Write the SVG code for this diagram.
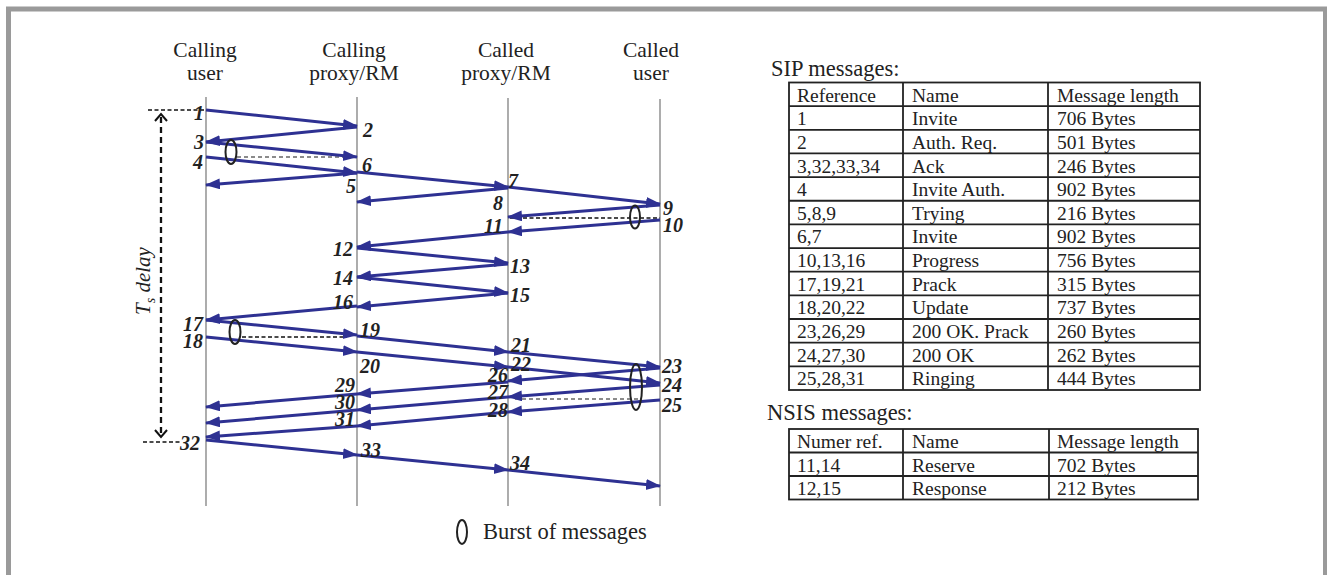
<svg xmlns="http://www.w3.org/2000/svg" width="1327" height="575" viewBox="0 0 1327 575">
<style>
.hdr{font-family:"Liberation Serif","Times New Roman",serif;font-size:21.5px;fill:#222;text-anchor:middle}
.lbl{font-family:"Liberation Serif","Times New Roman",serif;font-size:20px;font-weight:bold;font-style:italic;fill:#222}
.e{text-anchor:end}
.life{stroke:#808080;stroke-width:1.3;fill:none}
.msg{stroke:#2e3192;stroke-width:3;fill:none;marker-end:url(#ah)}
.burst{fill:none;stroke:#222;stroke-width:2}
.dg{stroke:#666;stroke-width:1.3;stroke-dasharray:4 3;fill:none}
.dk{stroke:#111;stroke-width:1.5;stroke-dasharray:4 2.5;fill:none}
.tt{font-family:"Liberation Serif","Times New Roman",serif;font-size:22.5px;fill:#222}
.tb{font-family:"Liberation Serif","Times New Roman",serif;font-size:19.5px;fill:#222}
.grid{stroke:#222;stroke-width:1.8;fill:none}
</style>
<defs>
<marker id="ah" markerUnits="userSpaceOnUse" markerWidth="18" markerHeight="12" refX="14" refY="5.5" orient="auto">
<path d="M0,0 L15,5.5 L0,11 z" fill="#2e3192"/>
</marker>
</defs>
<rect x="8.5" y="9" width="1317" height="620" fill="#fff" stroke="#9a9a9a" stroke-width="5"/>

<g id="calling-user">
<text class="hdr" x="205" y="57">Calling</text>
<text class="hdr" x="205" y="80">user</text>
<line class="life" x1="206" y1="97" x2="206" y2="506"/>
</g>
<g id="calling-proxy">
<text class="hdr" x="354" y="57">Calling</text>
<text class="hdr" x="354" y="80">proxy/RM</text>
<line class="life" x1="357" y1="97" x2="357" y2="506"/>
</g>
<g id="called-proxy">
<text class="hdr" x="506" y="57">Called</text>
<text class="hdr" x="506" y="80">proxy/RM</text>
<line class="life" x1="508" y1="98" x2="508" y2="506"/>
</g>
<g id="called-user">
<text class="hdr" x="651" y="57">Called</text>
<text class="hdr" x="651" y="80">user</text>
<line class="life" x1="660" y1="99" x2="660" y2="506"/>
</g>

<g id="ts-delay">
<line class="dk" x1="148" y1="110" x2="205" y2="110"/>
<line class="dk" x1="143" y1="442" x2="180" y2="442"/>
<line x1="161" y1="117" x2="161" y2="435" stroke="#111" stroke-width="2.3" stroke-dasharray="6 4"/>
<path d="M155,121 L161,114 L167,121" fill="none" stroke="#111" stroke-width="2"/>
<path d="M155,430 L161,437 L167,430" fill="none" stroke="#111" stroke-width="2"/>
<text class="tb" transform="translate(150,281) rotate(-90)" text-anchor="middle" style="font-size:21px;font-style:italic">T<tspan font-size="14" dy="5">s</tspan><tspan dy="-5"> delay</tspan></text>
</g>

<g id="connectors">
<line class="dg" x1="237" y1="157" x2="343" y2="157"/>
<line class="dk" x1="510" y1="218" x2="660" y2="218"/>
<line class="dk" x1="242" y1="337" x2="347" y2="337"/>
<line class="dg" x1="515" y1="399" x2="638" y2="399"/>

<line class="msg" x1="206" y1="110" x2="357" y2="126"/>
<line class="msg" x1="357" y1="127" x2="206" y2="142"/>
<line class="msg" x1="206" y1="142" x2="357" y2="157"/>
<line class="msg" x1="206" y1="157" x2="357" y2="173"/>
<line class="msg" x1="357" y1="173" x2="206" y2="185"/>
<line class="msg" x1="357" y1="172" x2="508" y2="187"/>
<line class="msg" x1="508" y1="188" x2="357" y2="202"/>
<line class="msg" x1="508" y1="187" x2="660" y2="204"/>
<line class="msg" x1="660" y1="205" x2="508" y2="217"/>
<line class="msg" x1="660" y1="220" x2="508" y2="232"/>
<line class="msg" x1="508" y1="232" x2="357" y2="247"/>
<line class="msg" x1="357" y1="248" x2="508" y2="263"/>
<line class="msg" x1="508" y1="264" x2="357" y2="277"/>
<line class="msg" x1="357" y1="277" x2="508" y2="293"/>
<line class="msg" x1="508" y1="293" x2="357" y2="307"/>
<line class="msg" x1="357" y1="306" x2="206" y2="320"/>
<line class="msg" x1="206" y1="320" x2="357" y2="335"/>
<line class="msg" x1="206" y1="337" x2="357" y2="352"/>
<line class="msg" x1="357" y1="336" x2="508" y2="352"/>
<line class="msg" x1="357" y1="352" x2="508" y2="367"/>
<line class="msg" x1="508" y1="352" x2="660" y2="367"/>
<line class="msg" x1="508" y1="367" x2="660" y2="383"/>
<line class="msg" x1="660" y1="368" x2="508" y2="381"/>
<line class="msg" x1="660" y1="385" x2="508" y2="397"/>
<line class="msg" x1="660" y1="400" x2="508" y2="412"/>
<line class="msg" x1="508" y1="382" x2="357" y2="394"/>
<line class="msg" x1="508" y1="397" x2="357" y2="410"/>
<line class="msg" x1="508" y1="412" x2="357" y2="426"/>
<line class="msg" x1="357" y1="394" x2="206" y2="407"/>
<line class="msg" x1="357" y1="410" x2="206" y2="423"/>
<line class="msg" x1="357" y1="426" x2="206" y2="437"/>
<line class="msg" x1="206" y1="440" x2="357" y2="455"/>
<line class="msg" x1="357" y1="455" x2="508" y2="470"/>
<line class="msg" x1="508" y1="470" x2="660" y2="486"/>

<ellipse class="burst" cx="231" cy="152" rx="5.5" ry="12"/>
<ellipse class="burst" cx="635" cy="217" rx="5" ry="11.5"/>
<ellipse class="burst" cx="235" cy="332" rx="5.5" ry="12"/>
<ellipse class="burst" cx="636" cy="387" rx="6" ry="23"/>
</g>

<g id="labels">
<text class="lbl e" x="204" y="120">1</text>
<text class="lbl e" x="204" y="149">3</text>
<text class="lbl e" x="203" y="169">4</text>
<text class="lbl e" x="203" y="331">17</text>
<text class="lbl e" x="203" y="348">18</text>
<text class="lbl e" x="200" y="450">32</text>
<text class="lbl e" x="356" y="193">5</text>
<text class="lbl e" x="353" y="256">12</text>
<text class="lbl e" x="353" y="285">14</text>
<text class="lbl e" x="353" y="309">16</text>
<text class="lbl e" x="355" y="392">29</text>
<text class="lbl e" x="355" y="409">30</text>
<text class="lbl e" x="355" y="426">31</text>
<text class="lbl" x="363" y="137">2</text>
<text class="lbl" x="362" y="172">6</text>
<text class="lbl" x="360" y="337">19</text>
<text class="lbl" x="360" y="373">20</text>
<text class="lbl" x="361" y="457">33</text>
<text class="lbl e" x="503" y="210">8</text>
<text class="lbl e" x="503" y="233">11</text>
<text class="lbl e" x="508" y="382">26</text>
<text class="lbl e" x="508" y="399">27</text>
<text class="lbl e" x="508" y="417">28</text>
<text class="lbl" x="508" y="188">7</text>
<text class="lbl" x="510" y="273">13</text>
<text class="lbl" x="510" y="302">15</text>
<text class="lbl" x="511" y="352">21</text>
<text class="lbl" x="511" y="371">22</text>
<text class="lbl" x="510" y="470">34</text>
<text class="lbl" x="663" y="215">9</text>
<text class="lbl" x="663" y="232">10</text>
<text class="lbl" x="662" y="373">23</text>
<text class="lbl" x="662" y="392">24</text>
<text class="lbl" x="662" y="412">25</text>
</g>

<g id="legend">
<ellipse class="burst" cx="462" cy="532" rx="5" ry="12"/>
<text class="tt" x="483" y="539">Burst of messages</text>
</g>

<g id="sip-table">
<text class="tt" x="771" y="76">SIP messages:</text>
<rect class="grid" x="789" y="82.5" width="411" height="307.5"/>
<line class="grid" x1="903" y1="82.5" x2="903" y2="390"/>
<line class="grid" x1="1048" y1="82.5" x2="1048" y2="390"/>
<path class="grid" d="M789,106.15H1200M789,129.8H1200M789,153.45H1200M789,177.1H1200M789,200.75H1200M789,224.4H1200M789,248.05H1200M789,271.7H1200M789,295.35H1200M789,319H1200M789,342.65H1200M789,366.3H1200"/>
<g class="tb">
<text x="797" y="101.5">Reference</text><text x="912" y="101.5">Name</text><text x="1057" y="101.5">Message length</text>
<text x="797" y="125.2">1</text><text x="912" y="125.2">Invite</text><text x="1057" y="125.2">706 Bytes</text>
<text x="797" y="148.8">2</text><text x="912" y="148.8">Auth. Req.</text><text x="1057" y="148.8">501 Bytes</text>
<text x="797" y="172.5">3,32,33,34</text><text x="912" y="172.5">Ack</text><text x="1057" y="172.5">246 Bytes</text>
<text x="797" y="196.1">4</text><text x="912" y="196.1">Invite Auth.</text><text x="1057" y="196.1">902 Bytes</text>
<text x="797" y="219.8">5,8,9</text><text x="912" y="219.8">Trying</text><text x="1057" y="219.8">216 Bytes</text>
<text x="797" y="243.4">6,7</text><text x="912" y="243.4">Invite</text><text x="1057" y="243.4">902 Bytes</text>
<text x="797" y="267.1">10,13,16</text><text x="912" y="267.1">Progress</text><text x="1057" y="267.1">756 Bytes</text>
<text x="797" y="290.7">17,19,21</text><text x="912" y="290.7">Prack</text><text x="1057" y="290.7">315 Bytes</text>
<text x="797" y="314.4">18,20,22</text><text x="912" y="314.4">Update</text><text x="1057" y="314.4">737 Bytes</text>
<text x="797" y="338">23,26,29</text><text x="912" y="338">200 OK. Prack</text><text x="1057" y="338">260 Bytes</text>
<text x="797" y="361.7">24,27,30</text><text x="912" y="361.7">200 OK</text><text x="1057" y="361.7">262 Bytes</text>
<text x="797" y="385.3">25,28,31</text><text x="912" y="385.3">Ringing</text><text x="1057" y="385.3">444 Bytes</text>
</g>
</g>

<g id="nsis-table">
<text class="tt" x="767" y="420">NSIS messages:</text>
<rect class="grid" x="789" y="429" width="409" height="70.5"/>
<line class="grid" x1="903" y1="429" x2="903" y2="499.5"/>
<line class="grid" x1="1049" y1="429" x2="1049" y2="499.5"/>
<path class="grid" d="M789,452.5H1198M789,476H1198"/>
<g class="tb">
<text x="797" y="448">Numer ref.</text><text x="912" y="448">Name</text><text x="1057" y="448">Message length</text>
<text x="797" y="471.5">11,14</text><text x="912" y="471.5">Reserve</text><text x="1057" y="471.5">702 Bytes</text>
<text x="797" y="495">12,15</text><text x="912" y="495">Response</text><text x="1057" y="495">212 Bytes</text>
</g>
</g>
</svg>
